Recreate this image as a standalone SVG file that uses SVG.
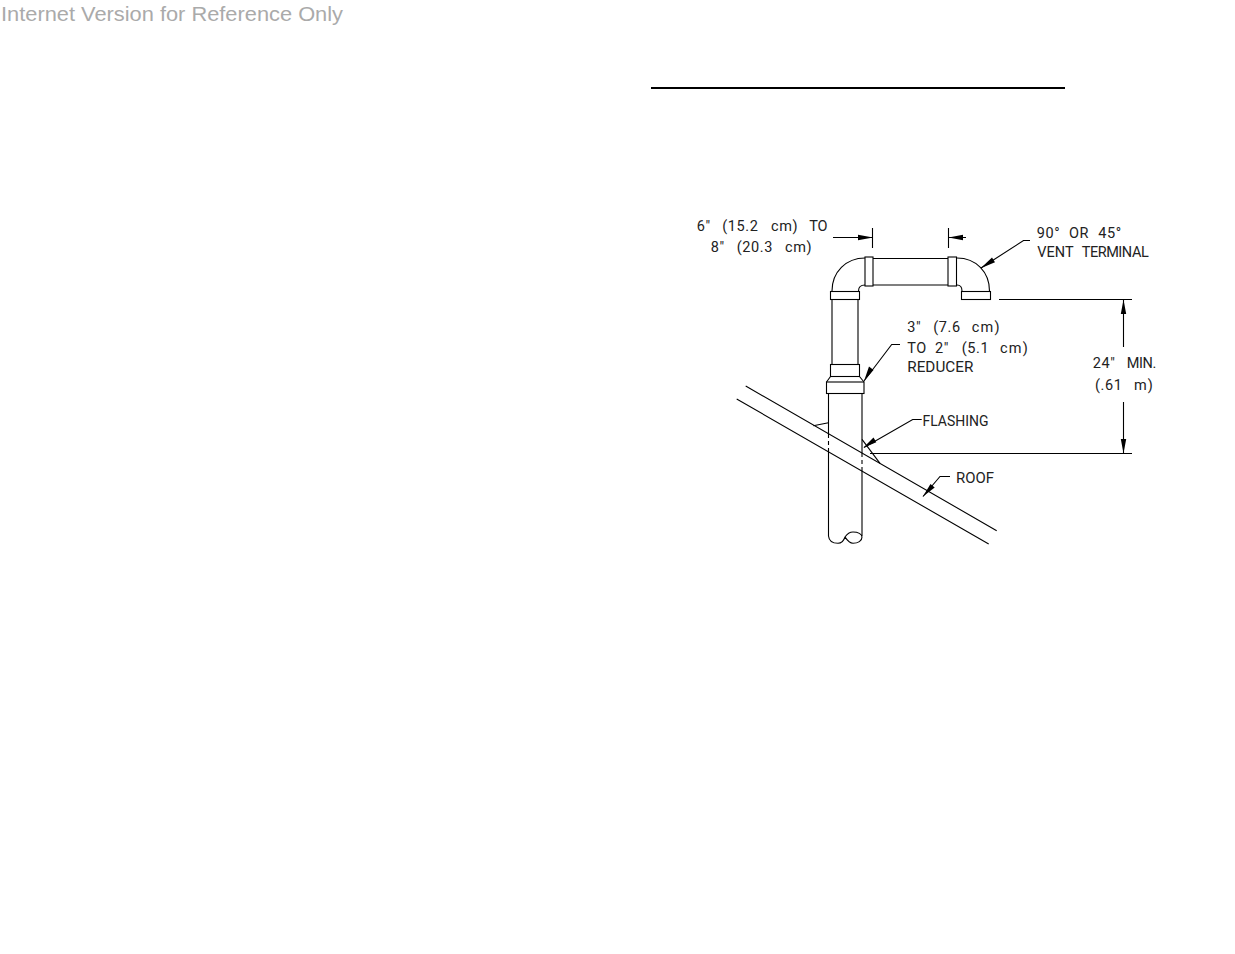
<svg xmlns="http://www.w3.org/2000/svg" width="1235" height="954" viewBox="0 0 1235 954">
<defs>
<style>
.l{fill:none;stroke:#000;stroke-width:1.1}
.g{fill:none;stroke:#000;stroke-width:1.1}
.d{fill:none;stroke:#000;stroke-width:1.1;stroke-dasharray:4 3}
.t{font-family:Roboto,"Liberation Sans",Arial,sans-serif;font-size:14.5px;fill:#222;letter-spacing:.6px}
.c{letter-spacing:0}
.a{fill:#000;stroke:none}
</style>
</defs>
<rect width="1235" height="954" fill="#fff"/>
<text x="1" y="20.500" font-family="'Liberation Sans',Arial,sans-serif" font-size="20" fill="#aaa" textLength="342" lengthAdjust="spacingAndGlyphs">Internet Version for Reference Only</text>
<rect x="651" y="87" width="414" height="2" fill="#000"/>
<g id="vent-pipe">
<path class="l" d="M832 291C832 272 846 258 865 258"/>
<path class="l" d="M858.500 291C858.500 287 861 285 865 285"/>
<rect class="l" x="830.500" y="291.500" width="29" height="8"/>
<rect class="l" x="865" y="257" width="8" height="29"/>
<path class="g" d="M873 258.500H948M873 285H948"/>
<rect class="l" x="948" y="257" width="8.500" height="29"/>
<path class="l" d="M957 258C976 258 989.500 272 989.500 291"/>
<path class="l" d="M957 285C960 285 962 287 962 291"/>
<rect class="l" x="961.500" y="291.500" width="29" height="8"/>
<path class="g" d="M832 299.500V364M858 299.500V364"/>
</g>
<g id="reducer">
<rect class="l" x="830.500" y="364.500" width="29" height="12"/>
<path class="l" d="M830.500 376.500L826.500 382M859.500 376.500L864 382"/>
<rect class="l" x="826.500" y="382" width="37.500" height="11.500"/>
</g>
<g id="lower-pipe">
<path class="g" d="M828.500 393.500V434M862 393.500V453"/>
<path class="d" d="M828.500 434V452M862 453V471"/>
<path class="g" d="M828.500 452V536M862 471V536"/>
<path class="l" d="M828.500 536C829 541 833 543.300 838 543.300C842 543.300 844 540 845 537C847 534 850 532 853 532C858 532 862 534 862 537C862 541 858 543.300 853 543.300C849 543.300 847 540 845 537"/>
</g>
<g id="roof">
<path class="l" d="M745.700 386L996.700 530.700M736.700 399L988.700 544"/>
</g>
<g id="flashing">
<path class="l" d="M813.300 425.700L828.500 422.700M862 439.300L880 463.300"/>
</g>
<g id="connectors">
<path class="l" d="M833 237.500H872"/><path class="a" d="M873 237.500L858 234.800V240.200Z"/>
<path class="l" d="M872.500 228V248M948.500 228V248M966 237.500H949"/><path class="a" d="M948.500 237.500L963 234.800V240.200Z"/>
<path class="l" d="M1030 240.500H1023.500L981 268"/><path class="a" d="M980.700 268.300L992 257.500L995 262.200Z"/>
<path class="l" d="M900 344.500H891.700L864 381"/><path class="a" d="M864 381L869 366.500L873.500 370Z"/>
<path class="l" d="M921.700 419.500H912.700L864 447.500"/><path class="a" d="M863.300 447.700L873.500 437.500L876.300 442.300Z"/>
<path class="l" d="M950 476.500H940L923 496.500"/><path class="a" d="M922.700 496.700L930.500 484L934.700 487.600Z"/>
<path class="l" d="M999 299.500H1132M870 453.500H1132M1123.500 299.500V347M1123.500 402V453.500"/>
<path class="a" d="M1123.500 299.500L1120.800 314H1126.200ZM1123.500 453.500L1120.800 439H1126.200Z"/>
</g>
<g id="labels">
<text class="t" y="231"><tspan x="696.700">6" </tspan><tspan x="722.300">(15.2 </tspan><tspan x="771">cm) </tspan><tspan x="809.300" letter-spacing="-.3">TO</tspan></text>
<text class="t" y="252"><tspan x="710.700">8" </tspan><tspan x="736.700">(20.3 </tspan><tspan x="785">cm)</tspan></text>
<text class="t" y="331.500"><tspan x="907.300">3" </tspan><tspan x="933.300">(7.6 </tspan><tspan x="971.700" letter-spacing="1.2">cm)</tspan></text>
<text class="t" y="353"><tspan x="907.300">TO </tspan><tspan x="935">2" </tspan><tspan x="961.700">(5.1 </tspan><tspan x="1000" letter-spacing="1.2">cm)</tspan></text>
<text class="t c" x="907.300" y="372" textLength="66" lengthAdjust="spacingAndGlyphs">REDUCER</text>
<text class="t" y="237.500"><tspan x="1036.700">90° </tspan><tspan x="1069">OR </tspan><tspan x="1098.300">45°</tspan></text>
<text class="t c" y="256.500"><tspan x="1037.300">VENT </tspan><tspan x="1081.700" letter-spacing="-.45">TERMINAL</tspan></text>
<text class="t" y="367.500"><tspan x="1092.700">24" </tspan><tspan x="1126.700" letter-spacing="-.4">MIN.</tspan></text>
<text class="t" y="390"><tspan x="1095">(.61 </tspan><tspan x="1134" letter-spacing="1">m)</tspan></text>
<text class="t c" x="922.500" y="426" textLength="66" lengthAdjust="spacingAndGlyphs">FLASHING</text>
<text class="t c" x="956" y="483" textLength="38" lengthAdjust="spacingAndGlyphs">ROOF</text>
</g>
</svg>
